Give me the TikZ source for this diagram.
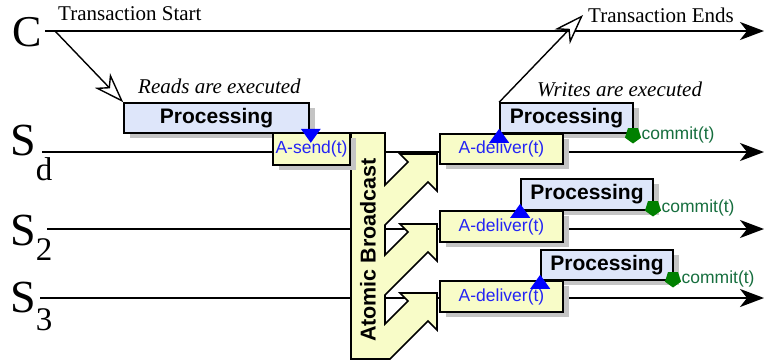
\documentclass[tikz,border=0pt]{standalone}
\usepackage{fontspec}
\setmainfont{Liberation Serif}
\setsansfont{Liberation Sans}
\usetikzlibrary{arrows.meta,shapes.geometric,shadows}

\definecolor{procfill}{RGB}{222,230,250}
\definecolor{msgfill}{RGB}{248,252,200}
\definecolor{shadowgray}{RGB}{196,196,196}
\definecolor{msgblue}{RGB}{36,36,245}
\definecolor{markblue}{RGB}{0,0,255}
\definecolor{commitgreen}{RGB}{22,110,62}
\definecolor{dotgreen}{RGB}{0,128,0}

\tikzset{
  timeline/.style={line width=2.4pt, -{Stealth[length=24pt,width=18pt,inset=7pt]}},
  hop/.style={line width=1.4pt, -{Stealth[length=30pt,width=21pt,inset=9pt,fill=white]}},
  boxshadow/.style={general shadow={fill=shadowgray, shadow xshift=6pt, shadow yshift=-5pt}},
  procbox/.style={draw, line width=1.6pt, fill=procfill, boxshadow, inner sep=0pt,
    font=\sffamily\bfseries\fontsize{21}{21}\selectfont},
  msgbox/.style={draw, line width=1.6pt, fill=msgfill, boxshadow, inner sep=0pt,
    text=msgblue, font=\sffamily\fontsize{17.5}{17.5}\selectfont},
  proclabel/.style={inner sep=0pt, anchor=base west, font=\fontsize{21}{21}\selectfont\itshape},
  eventlabel/.style={inner sep=0pt, anchor=base west, font=\fontsize{21}{21}\selectfont},
  proc/.style={inner sep=0pt, anchor=base west, font=\fontsize{46}{46}\selectfont},
  subfont/.style={},
  commitdot/.style={regular polygon, regular polygon sides=5, shape border rotate=180,
    fill=dotgreen, minimum size=17pt, inner sep=0pt},
  commitlabel/.style={inner sep=0pt, anchor=west, text=commitgreen,
    font=\sffamily\fontsize{17.5}{17.5}\selectfont},
  abcast/.style={draw, line width=1.6pt, fill=msgfill, line join=miter},
  evmarker/.style={fill=markblue}
}
\newcommand{\procsub}[2]{\raisebox{-#1pt}{\fontsize{33}{33}\selectfont #2}}

\begin{document}
\begin{tikzpicture}[x=1pt, y=-1pt]
\useasboundingbox (0,0) rectangle (766,362);

% process names
\node[proc, font=\fontsize{44}{44}\selectfont] (C) at (12,46) {C};
\node[proc] (Sd) at (10,155) {S\procsub{25}{d}};
\node[proc] (S2) at (10,245) {S\procsub{15}{2}};
\node[proc] (S3) at (10,312) {S\procsub{18}{3}};

% time lines
\coordinate (cL) at (45,31);   \coordinate (cR) at (764,31);
\coordinate (dL) at (42,152);  \coordinate (dR) at (764,152);
\coordinate (tL) at (47,229);  \coordinate (tR) at (764,229);
\coordinate (hL) at (40,298);  \coordinate (hR) at (764,298);
\draw[timeline] (cL) -- (cR);
\draw[timeline] (dL) -- (dR);
\draw[timeline] (tL) -- (tR);
\draw[timeline] (hL) -- (hR);

% atomic broadcast block with its three delivery arrows
\draw[abcast]
  (351,133) -- (385,133) -- (385,185) -- (408,162) -- (400,154) -- (437,154)
  -- (437,191) -- (428,182) -- (385,225)
  -- (385,255) -- (408,232) -- (400,224) -- (437,224)
  -- (437,261) -- (428,252) -- (385,295)
  -- (385,324) -- (408,301) -- (400,293) -- (437,293)
  -- (437,330) -- (428,321) -- (390,359) -- (351,359) -- cycle;
\node[rotate=90, inner sep=0pt, font=\sffamily\bfseries\fontsize{21.5}{21.5}\selectfont]
  (ab) at (368,250) {Atomic Broadcast};

% processing boxes
\node[procbox, minimum width=185pt, minimum height=30pt] (p1) at (216.5,118) {Processing};
\node[procbox, minimum width=133pt, minimum height=30pt] (p2) at (566.5,118) {Processing};
\node[procbox, minimum width=132pt, minimum height=31pt] (p3) at (587,194.5) {Processing};
\node[procbox, minimum width=132pt, minimum height=30pt] (p4) at (607,265) {Processing};

% broadcast primitives
\node[msgbox, minimum width=77pt, minimum height=32pt] (snd) at (311.5,149) {A-send(t)};
\node[msgbox, minimum width=123pt, minimum height=30pt] (d1) at (501.5,149) {A-deliver(t)};
\node[msgbox, minimum width=123pt, minimum height=31pt] (d2) at (501.5,226.5) {A-deliver(t)};
\node[msgbox, minimum width=123pt, minimum height=31pt] (d3) at (501.5,296.5) {A-deliver(t)};

% send / deliver markers
\fill[evmarker] (p1.south east) ++(-9,-5) -- ++(20,0) -- ++(-10,14) -- cycle;
\fill[evmarker] (p2.south west) ++(0,-5) -- ++(10,14) -- ++(-20,0) -- cycle;
\fill[evmarker] (p3.south west) ++(0,-7) -- ++(10,14) -- ++(-20,0) -- cycle;
\fill[evmarker] (p4.south west) ++(0,-6) -- ++(10,14) -- ++(-20,0) -- cycle;

% commit points
\node[commitdot] (k1) at (633,135) {};
\node[commitdot] (k2) at (653,208) {};
\node[commitdot] (k3) at (673,279) {};
\node[commitlabel] (kl1) at ([xshift=1pt]k1.east) {commit(t)};
\node[commitlabel] (kl2) at ([xshift=1pt]k2.east) {commit(t)};
\node[commitlabel] (kl3) at ([xshift=1pt]k3.east) {commit(t)};

% labels
\node[eventlabel] (ts) at (58,20.7) {Transaction Start};
\node[eventlabel] (te) at (588,22.5) {Transaction Ends};
\node[proclabel] (re) at (138,93.3) {Reads are executed};
\node[proclabel] (we) at (537,96.7) {Writes are executed};

% client hand-offs
\coordinate (cs) at (55,31);
\coordinate (ce) at (583,15);
\draw[hop] (cs) -- (p1.north west);
\draw[hop] (p2.north west) -- (ce);
\end{tikzpicture}
\end{document}
